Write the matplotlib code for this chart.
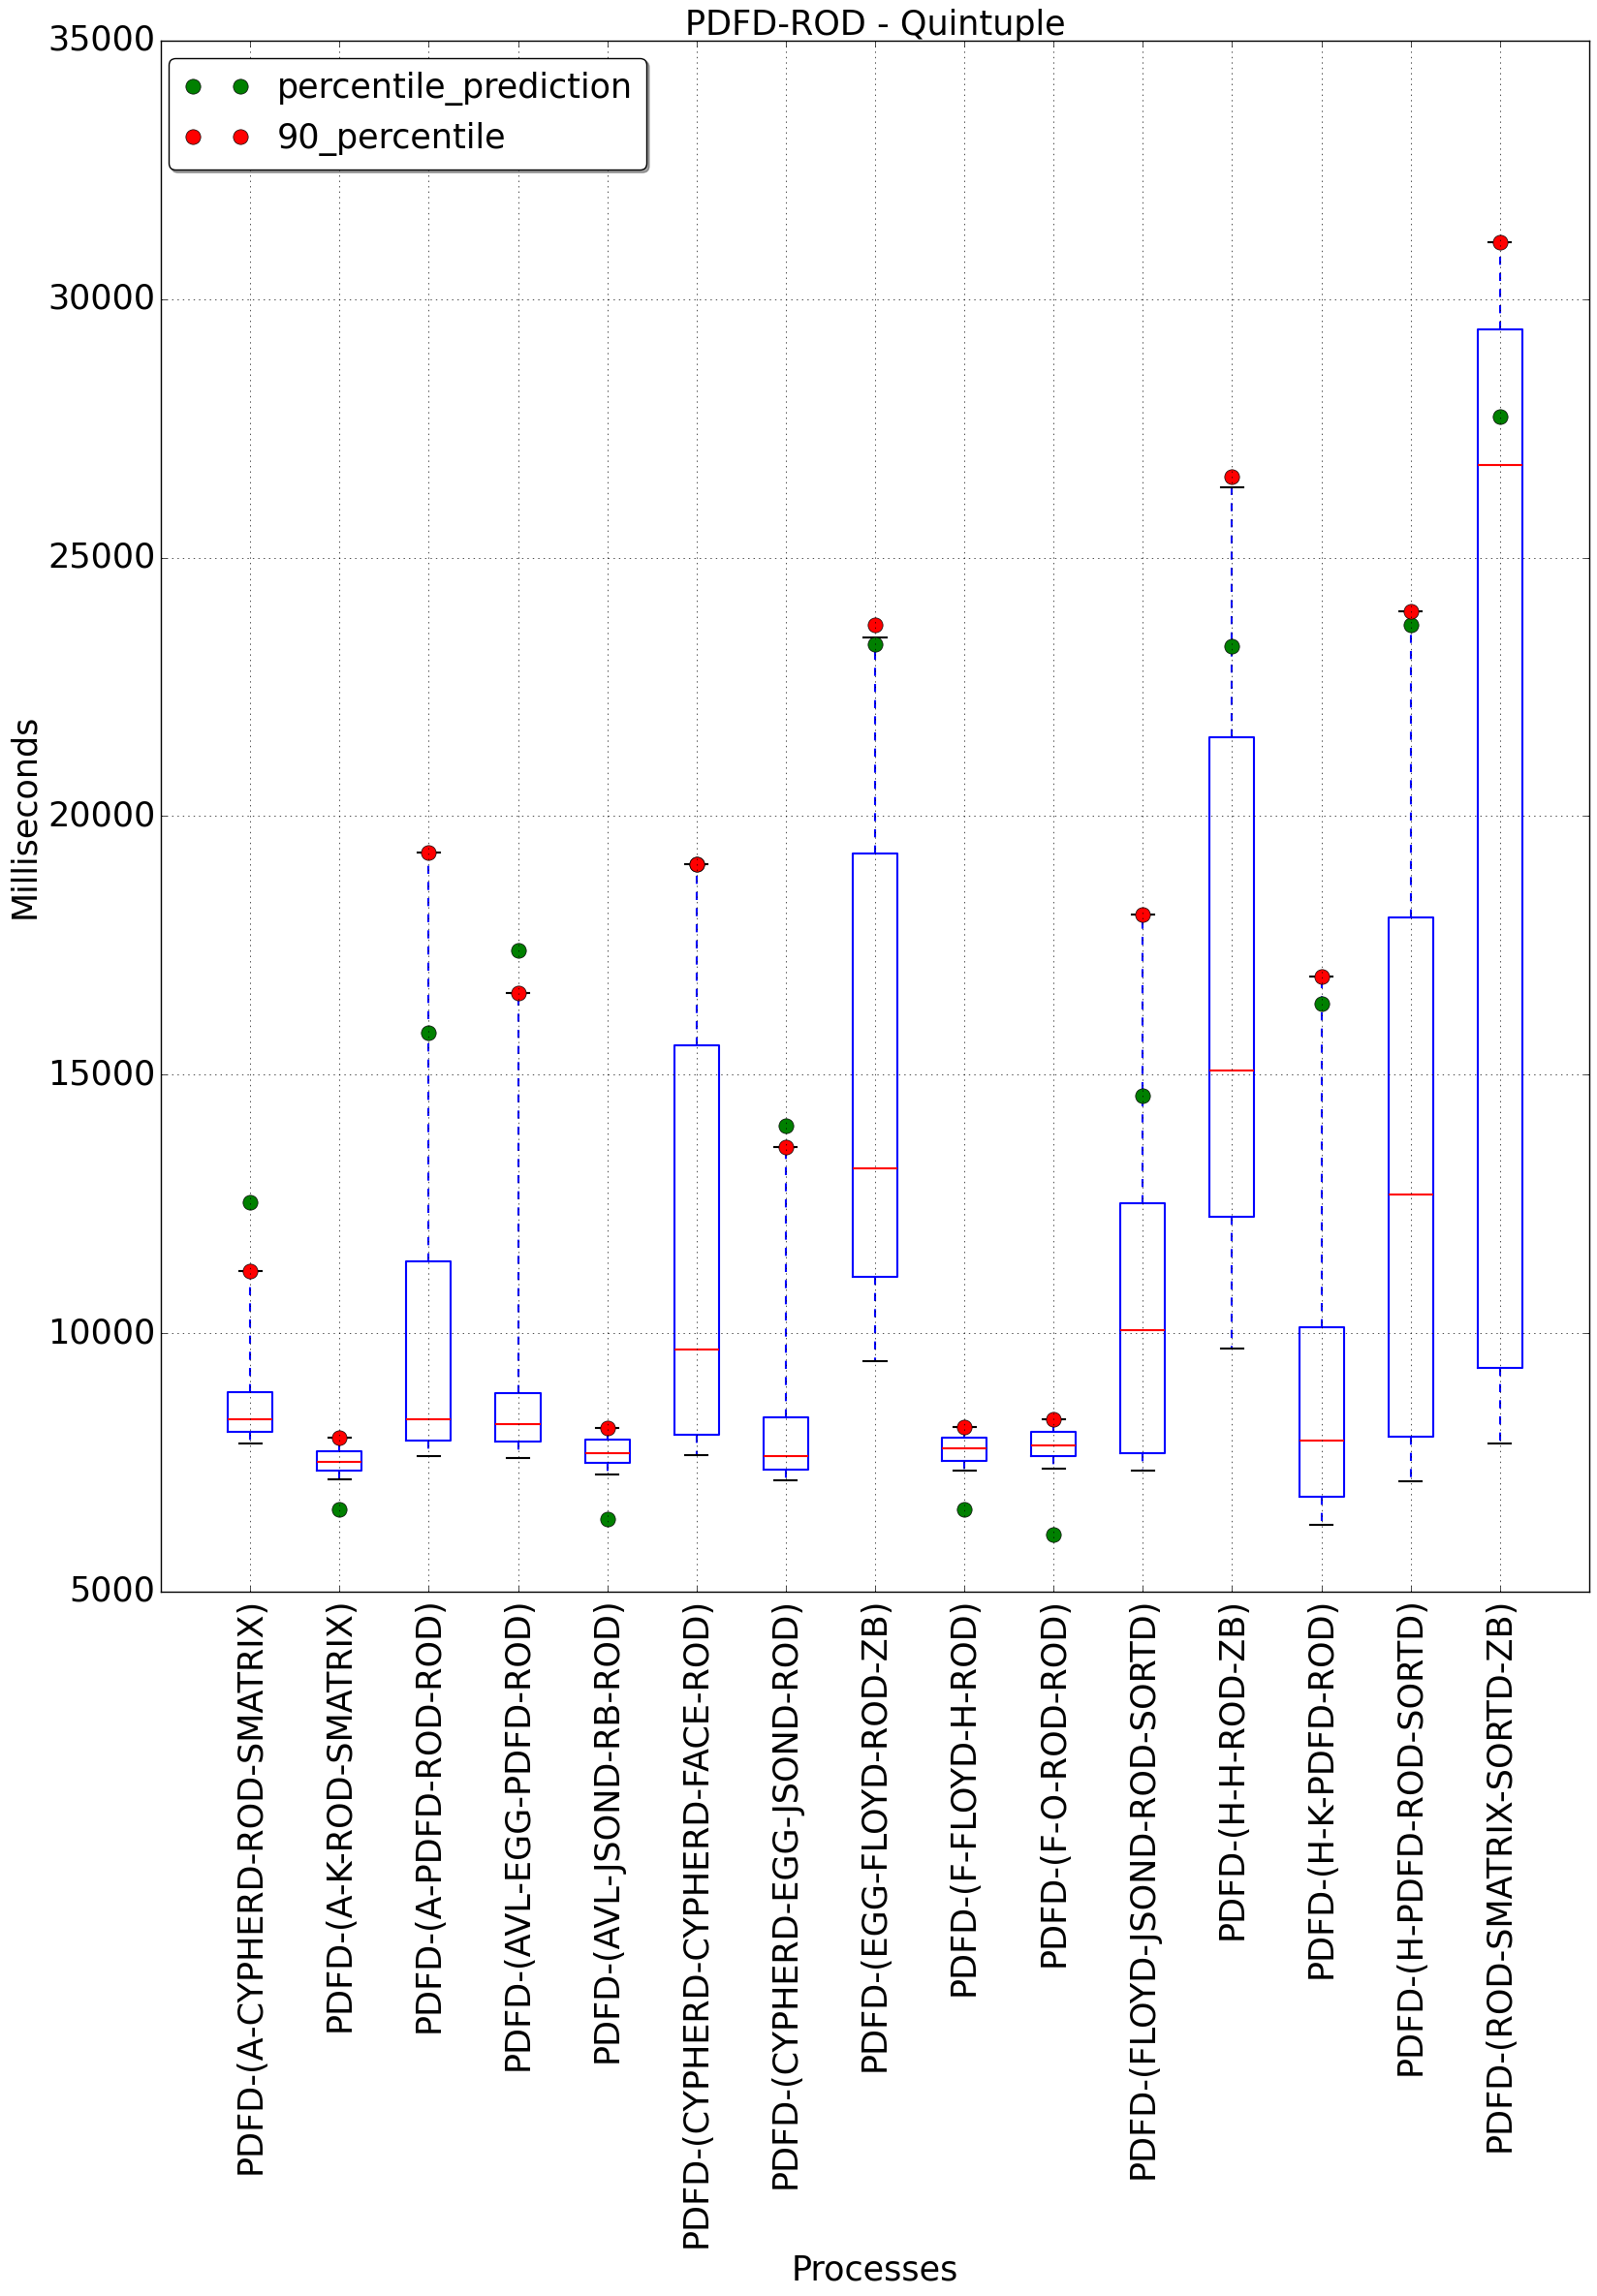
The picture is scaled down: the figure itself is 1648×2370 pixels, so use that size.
import matplotlib
matplotlib.use("Agg")
import matplotlib.pyplot as plt

# process names on the x axis
processes = [
    "PDFD-(A-CYPHERD-ROD-SMATRIX)",
    "PDFD-(A-K-ROD-SMATRIX)",
    "PDFD-(A-PDFD-ROD-ROD)",
    "PDFD-(AVL-EGG-PDFD-ROD)",
    "PDFD-(AVL-JSOND-RB-ROD)",
    "PDFD-(CYPHERD-CYPHERD-FACE-ROD)",
    "PDFD-(CYPHERD-EGG-JSOND-ROD)",
    "PDFD-(EGG-FLOYD-ROD-ZB)",
    "PDFD-(F-FLOYD-H-ROD)",
    "PDFD-(F-O-ROD-ROD)",
    "PDFD-(FLOYD-JSOND-ROD-SORTD)",
    "PDFD-(H-H-ROD-ZB)",
    "PDFD-(H-K-PDFD-ROD)",
    "PDFD-(H-PDFD-ROD-SORTD)",
    "PDFD-(ROD-SMATRIX-SORTD-ZB)",
]

# box statistics (milliseconds)
whisker_low = [7867, 7173, 7623, 7586, 7267, 7642, 7155, 9459, 7336, 7376, 7336, 9703, 6284, 7127, 7865]
q1 = [8092, 7342, 7923, 7904, 7492, 8035, 7361, 11090, 7520, 7616, 7681, 12255, 6830, 7994, 9326]
median = [8335, 7511, 8335, 8241, 7679, 9684, 7623, 13181, 7769, 7825, 10056, 15080, 7921, 12689, 26798]
q3 = [8866, 7717, 11389, 8841, 7942, 15575, 8373, 19270, 7978, 8082, 12520, 21534, 10112, 18046, 29413]
whisker_high = [11195, 7985, 19301, 16584, 8172, 19076, 13595, 23447, 8186, 8339, 18100, 26356, 16905, 23956, 31103]

# extra points
percentile_prediction = [12538, 6593, 15815, 17407, 6405, 19076, 14006, 23331, 6589, 6100, 14583, 23278, 16378, 23698, 27723]
percentile_90 = [11195, 7985, 19301, 16584, 8172, 19076, 13595, 23703, 8186, 8339, 18100, 26561, 16905, 23956, 31103]

plt.style.use("classic")
plt.rcParams["font.size"] = 25.2

fig = plt.figure(figsize=(16.49, 23.70), dpi=100, facecolor="white")
ax = fig.add_axes([0.1007, 0.3068, 0.8938, 0.6755])

stats = []
for i in range(len(processes)):
    stats.append({
        "whislo": whisker_low[i], "q1": q1[i], "med": median[i],
        "q3": q3[i], "whishi": whisker_high[i], "fliers": [],
    })

positions = list(range(1, len(processes) + 1))
ax.bxp(stats, positions=positions, widths=0.5, showfliers=False,
       boxprops=dict(color="blue", linewidth=1.5),
       whiskerprops=dict(color="blue", linestyle="--", linewidth=1.5),
       capprops=dict(color="black", linewidth=1.5),
       medianprops=dict(color="red", linewidth=1.5))

ax.plot(positions, percentile_prediction, "o", color="green", markeredgecolor="black",
        markersize=11, label="percentile_prediction")
ax.plot(positions, percentile_90, "o", color="red", markeredgecolor="black",
        markersize=11, label="90_percentile")

ax.set_xlim(0, len(processes) + 1)
ax.set_ylim(5000, 35000)
ax.set_xticks(positions)
ax.set_xticklabels(processes, rotation=90)
ax.grid(True)

ax.set_title("PDFD-ROD - Quintuple", fontsize=25.2, pad=4)
ax.set_xlabel("Processes")
ax.set_ylabel("Milliseconds")
ax.legend(loc="upper left", bbox_to_anchor=(0.0054, 0.9888), borderaxespad=0,
          numpoints=2, fancybox=True, shadow=True, fontsize=25.2)

fig.savefig("out.png", dpi=100, facecolor="white")
